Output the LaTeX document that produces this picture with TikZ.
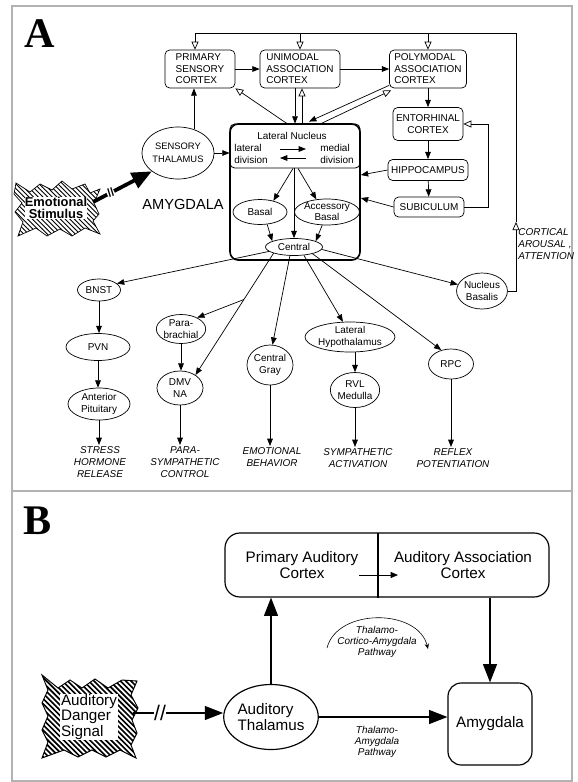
\documentclass[tikz,border=0pt]{standalone}
\usepackage{fontspec}
\setmainfont{Liberation Sans}
\newfontfamily\panelfont{Liberation Serif}
\usetikzlibrary{positioning,arrows.meta,shapes.geometric,patterns,calc}

\pgfdeclarepatternformonly{hatchA}{\pgfqpoint{-1pt}{-1pt}}{\pgfqpoint{5pt}{5pt}}{\pgfqpoint{4pt}{4pt}}%
{\pgfsetlinewidth{0.75pt}\pgfpathmoveto{\pgfqpoint{-0.1pt}{4.1pt}}\pgfpathlineto{\pgfqpoint{4.1pt}{-0.1pt}}\pgfusepath{stroke}}
\pgfdeclarepatternformonly{hatchB}{\pgfqpoint{-1pt}{-1pt}}{\pgfqpoint{5.5pt}{5.5pt}}{\pgfqpoint{4.5pt}{4.5pt}}%
{\pgfsetlinewidth{1.4pt}\pgfpathmoveto{\pgfqpoint{-0.1pt}{4.6pt}}\pgfpathlineto{\pgfqpoint{4.6pt}{-0.1pt}}\pgfusepath{stroke}}

\begin{document}
\begin{tikzpicture}[
		x=0.03cm, y=-0.03cm,
		every node/.style={
			align=center,
			inner sep=1pt
		},
		lab/.style={font=\fontsize{8.5}{9.8}\selectfont},
		cbox/.style={draw, rounded corners=4pt, line width=0.6pt, font=\fontsize{8.5}{9.8}\selectfont},
		nuc/.style={draw, ellipse, line width=0.6pt, inner sep=0pt, font=\fontsize{8.5}{10.2}\selectfont},
		outcome/.style={anchor=north, font=\itshape\fontsize{8.5}{10.4}\selectfont},
		arr/.style={line width=0.6pt, -{Triangle[length=2.2mm,width=1.7mm]}},
		oarr/.style={line width=0.6pt, -{Triangle[open,length=2.4mm,width=2.1mm]}},
		bigarr/.style={line width=1pt, -{Triangle[length=5.5mm,width=4.2mm]}},
		bfont/.style={font=\fontsize{13}{13.2}\selectfont},
		pathlab/.style={font=\itshape\fontsize{8.5}{9.2}\selectfont}
		]
		
		\useasboundingbox (0,0) rectangle (577,782);
		
		%--------------------------------------------------
		% Frame
		%--------------------------------------------------
		
		\draw[gray!60, line width=0.9pt] (12,6) rectangle (572,781);
		\draw[gray!60, line width=0.9pt] (12,491) -- (572,491);
		
		\node[font=\panelfont\bfseries\fontsize{36}{36}\selectfont] (lblA) at (40,34) {A};
		\node[font=\panelfont\bfseries\fontsize{36}{36}\selectfont] (lblB) at (38,521) {B};
		
		%--------------------------------------------------
		% Cortex and hippocampal loop
		%--------------------------------------------------
		
		\node[cbox, minimum width=2.1cm, minimum height=1.14cm, align=left] (prim) at (200,69) {PRIMARY\\SENSORY\\CORTEX};
		\node[cbox, minimum width=2.4cm, minimum height=1.14cm, align=left] (unim) at (300,69) {UNIMODAL\\ASSOCIATION\\CORTEX};
		\node[cbox, minimum width=2.31cm, minimum height=1.14cm, align=left] (poly) at (428,69) {POLYMODAL\\ASSOCIATION\\CORTEX};
		\node[cbox, minimum width=2.1cm, minimum height=0.99cm] (ento) at (428,124) {ENTORHINAL\\CORTEX};
		\node[cbox, minimum width=2.4cm, minimum height=0.63cm] (hippo) at (428,170) {HIPPOCAMPUS};
		\node[cbox, minimum width=2.1cm, minimum height=0.6cm] (subic) at (429,207) {SUBICULUM};
		
		\draw[arr] (prim) -- (unim);
		\draw[arr] (unim) -- (poly);
		\draw[arr] (poly) -- (ento);
		\draw[arr] (ento) -- (hippo);
		\draw[arr] (hippo) -- (subic);
		\coordinate (subR) at (488,207);
		\draw[oarr] (subic.east) -- (subR) |- (ento.east);
		
		%--------------------------------------------------
		% Amygdala
		%--------------------------------------------------
		
		\node[draw, rounded corners=4pt, line width=0.7pt, minimum width=3.9cm, minimum height=1.32cm] (latnuc) at (295,146) {};
		\node[draw, rounded corners=7pt, line width=1.4pt, minimum width=3.9cm, minimum height=4.08cm] (amyg) at (295,192) {};
		\node[lab] (latname) at (292,136) {Lateral Nucleus};
		\node[lab, anchor=west, align=left] (latdiv) at (233,154) {lateral\\division};
		\node[lab, anchor=east, align=left] (meddiv) at (355,154) {medial\\division};
		\coordinate (divL) at (280,149);
		\coordinate (divR) at (306,149);
		\draw[arr] (divL) -- (divR);
		\draw[arr] ([shift={(0,9)}]divR) -- ([shift={(0,9)}]divL);
		
		\node[font=\fontsize{12.5}{13}\selectfont] (amyglab) at (183,204) {AMYGDALA};
		
		\node[nuc, minimum width=1.62cm, minimum height=0.75cm] (basal) at (260,212) {Basal};
		\node[nuc, minimum width=1.5cm, minimum height=0.78cm, font=\fontsize{8.5}{9.4}\selectfont] (accb) at (327,212) {Accessory\\Basal};
		\node[nuc, minimum width=1.71cm, minimum height=0.51cm] (central) at (294,247) {Central};
		
		\draw[arr] ([shift={(-2,0)}]latnuc.south) -- (basal.40);
		\draw[arr] (central.north |- latnuc.south) -- (central.north);
		\draw[arr] ([shift={(3,0)}]latnuc.south) -- (accb.130);
		\draw[arr] (basal.-60) -- (central.165);
		\draw[arr] (accb.-110) -- (central.15);
		
		%--------------------------------------------------
		% Sensory input
		%--------------------------------------------------
		
		\node[nuc, minimum width=1.89cm, minimum height=1.56cm, font=\fontsize{8}{11.5}\selectfont] (thal) at (178,153) {SENSORY\\THALAMUS};
		
		% jagged stimulus outline
		\draw[line width=0.6pt, pattern=hatchA]
		(16,183) -- (30,192) -- (40,184) -- (52,190) -- (62,181) -- (72,189) -- (85,184) -- (90,193)
		-- (100,189) -- (94,203) -- (99,214) -- (93,221) -- (100,234) -- (85,228) -- (72,236) -- (60,229)
		-- (47,236) -- (36,228) -- (18,236) -- (23,222) -- (15,212) -- (22,203) -- (14,194) -- cycle;
		\node[fill=white, inner sep=0.3pt, font=\bfseries\fontsize{11}{10}\selectfont] (stim) at (56,208) {Emotional\\Stimulus};
		
		\draw[line width=3.2pt, -{Triangle[length=6mm,width=5mm]}]
		([shift={(37,-6)}]stim.center)
		--
		node[pos=0.3, sloped, fill=white, inner sep=0.4pt, font=\bfseries\fontsize{10}{10}\selectfont] (brkA) {//}
		(thal.215);
		
		\draw[arr] (thal.east) -- (thal.east -| latnuc.west);
		\draw[arr] (thal.56) -- (thal.56 |- prim.south);
		\draw[oarr] ([shift={(-8,0)}]latnuc.north) -- (prim.south east);
		\draw[arr] ([shift={(-5,0)}]unim.south) -- ([shift={(-5,0)}]unim.south |- latnuc.north);
		\draw[oarr] ([shift={(2,0)}]unim.south |- latnuc.north) -- ([shift={(2,0)}]unim.south);
		\draw[arr] ([shift={(0,-3)}]poly.south west) -- ([shift={(14,-2)}]latnuc.north);
		\draw[oarr] ([shift={(26,0)}]latnuc.north) -- ([shift={(2,2)}]poly.south west);
		\draw[arr] (hippo.west) -- ([shift={(0,5)}]hippo.west -| amyg.east);
		\draw[arr] (subic.west) -- ([shift={(0,-9)}]subic.west -| amyg.east);
		
		%--------------------------------------------------
		% Outputs of the central nucleus
		%--------------------------------------------------
		
		\node[nuc, minimum width=1.29cm, minimum height=0.66cm] (bnst) at (99,290) {BNST};
		\node[nuc, minimum width=1.92cm, minimum height=0.81cm] (pvn) at (98,347) {PVN};
		\node[nuc, minimum width=1.86cm, minimum height=0.96cm] (antpit) at (99,404) {Anterior\\Pituitary};
		\node[nuc, minimum width=1.38cm, minimum height=0.87cm] (parab) at (181,329) {Para-\\brachial};
		\node[nuc, minimum width=1.38cm, minimum height=1.02cm] (dmv) at (180,388) {DMV\\NA};
		\node[nuc, minimum width=1.38cm, minimum height=1.2cm] (cgray) at (270,365) {Central\\Gray};
		\node[nuc, minimum width=2.22cm, minimum height=0.9cm] (lathyp) at (350,337) {Lateral\\Hypothalamus};
		\node[nuc, minimum width=1.38cm, minimum height=1.05cm] (rvl) at (355,390) {RVL\\Medulla};
		\node[nuc, minimum width=1.35cm, minimum height=0.9cm] (rpc) at (451,364) {RPC};
		\node[nuc, minimum width=1.5cm, minimum height=1.08cm] (nucbas) at (482,291) {Nucleus\\Basalis};
		
		\node[outcome] (stress) at (100,445) {STRESS\\HORMONE\\RELEASE};
		\node[outcome] (para) at (185,445) {PARA-\\SYMPATHETIC\\CONTROL};
		\node[outcome] (emot) at (272,446) {EMOTIONAL\\BEHAVIOR};
		\node[outcome] (symp) at (358,447) {SYMPATHETIC\\ACTIVATION};
		\node[outcome] (reflex) at (453,447) {REFLEX\\POTENTIATION};
		
		\draw[arr] (central.190) -- (bnst.20);
		\path (central.197) -- (dmv.40) coordinate[pos=0.38] (split);
		\draw[arr] (central.197) -- (dmv.40);
		\draw[arr] (split) -- (parab.35);
		\draw[arr] (central.245) -- (cgray.83);
		\draw[arr] (central.-40) -- (lathyp.115);
		\draw[arr] (central.-20) -- (rpc.125);
		\draw[arr] (central.-5) -- (nucbas.165);
		
		\draw[arr] (bnst) -- (bnst |- pvn.north);
		\draw[arr] (pvn) -- (pvn |- antpit.north);
		\draw[arr] (antpit) -- (antpit |- stress.north);
		\draw[arr] (parab) -- (parab |- dmv.north);
		\draw[arr] (dmv) -- (dmv |- para.north);
		\draw[arr] (cgray) -- (cgray |- emot.north);
		\draw[arr] (rvl.north |- lathyp.south) -- (rvl.north);
		\draw[arr] (rvl) -- (rvl |- symp.north);
		\draw[arr] (rpc) -- (rpc |- reflex.north);
		
		% cortical arousal loop
		\coordinate (fbUp) at (516,222);
		\coordinate (fbTR) at (516,33);
		\coordinate (fbTL) at (195,33);
		\draw[oarr] (nucbas.east) -| (fbUp);
		\draw[line width=0.6pt] (fbUp) -- (fbTR) -- (fbTL);
		\draw[oarr] (fbTL) -- (fbTL |- prim.north);
		\draw[oarr] (fbTL -| unim) -- (unim.north);
		\draw[oarr] (fbTL -| poly) -- (poly.north);
		\node[anchor=north west, align=left, font=\itshape\fontsize{8.5}{10.5}\selectfont] (arousal) at (517,227) {CORTICAL\\AROUSAL ,\\ATTENTION};
		
		%--------------------------------------------------
		% Panel B
		%--------------------------------------------------
		
		\node[draw, rounded corners=0.45cm, line width=1pt, minimum width=9.72cm, minimum height=1.92cm] (actx) at (387,565) {};
		\coordinate (ctxdiv) at (378,533);
		\draw[line width=1pt] (ctxdiv) -- (ctxdiv |- actx.south);
		\node[bfont] (pac) at (302,565) {Primary Auditory\\Cortex};
		\node[bfont] (aac) at (463,565) {Auditory Association\\Cortex};
		\coordinate (ctxmid) at (378,575);
		\draw[line width=0.7pt, -{Triangle[length=2.2mm,width=1.8mm]}] ([shift={(-19,0)}]ctxmid) -- ([shift={(20,0)}]ctxmid);
		
		\node[draw, ellipse, line width=1pt, minimum width=2.46cm, minimum height=1.95cm, inner sep=0pt, align=left, bfont] (athal) at (271,717) {Auditory\\Thalamus};
		
		% jagged danger outline
		\draw[line width=0.8pt, pattern=hatchB]
		(42,675) -- (58,688) -- (70,680) -- (82,688) -- (95,679) -- (108,688) -- (122,680) -- (137,681)
		-- (131,695) -- (138,708) -- (132,720) -- (137,733) -- (131,745) -- (136,758) -- (120,750) -- (106,757)
		-- (92,750) -- (78,757) -- (64,750) -- (42,758) -- (48,742) -- (42,730) -- (48,716) -- (42,703)
		-- (48,690) -- cycle;
		\node[fill=white, inner sep=0.5pt, align=left, bfont] (danger) at (89,717) {Auditory\\Danger\\Signal};
		\node[draw, rounded corners=0.4cm, line width=1pt, minimum width=2.52cm, minimum height=2.46cm, bfont] (amygB) at (490,724) {Amygdala};
		
		\coordinate (dangerOut) at ([shift={(44,-4)}]danger.center);
		\draw[bigarr]
		(dangerOut)
		--
		node[pos=0.3, fill=white, inner sep=0pt, font=\fontsize{18}{18}\selectfont] (brkB) {//}
		(dangerOut -| athal.west);
		\draw[bigarr] (athal) -- (athal |- actx.south);
		\draw[bigarr] (amygB.north |- actx.south) -- (amygB.north);
		\draw[bigarr] (athal.east) -- (athal.east -| amygB.west);
		
		\node[pathlab] (tcapath) at (377,642) {Thalamo-\\Cortico-Amygdala\\Pathway};
		\node[pathlab] (tapath) at (377,742) {Thalamo-\\Amygdala\\Pathway};
		\coordinate (arcL) at (327,648);
		\coordinate (arcR) at (428,649);
		\draw[line width=0.5pt, -{Stealth[length=1.6mm,width=1.3mm]}] (arcL) .. controls (337,608) and (418,608) .. (arcR);
		
	\end{tikzpicture}
\end{document}
